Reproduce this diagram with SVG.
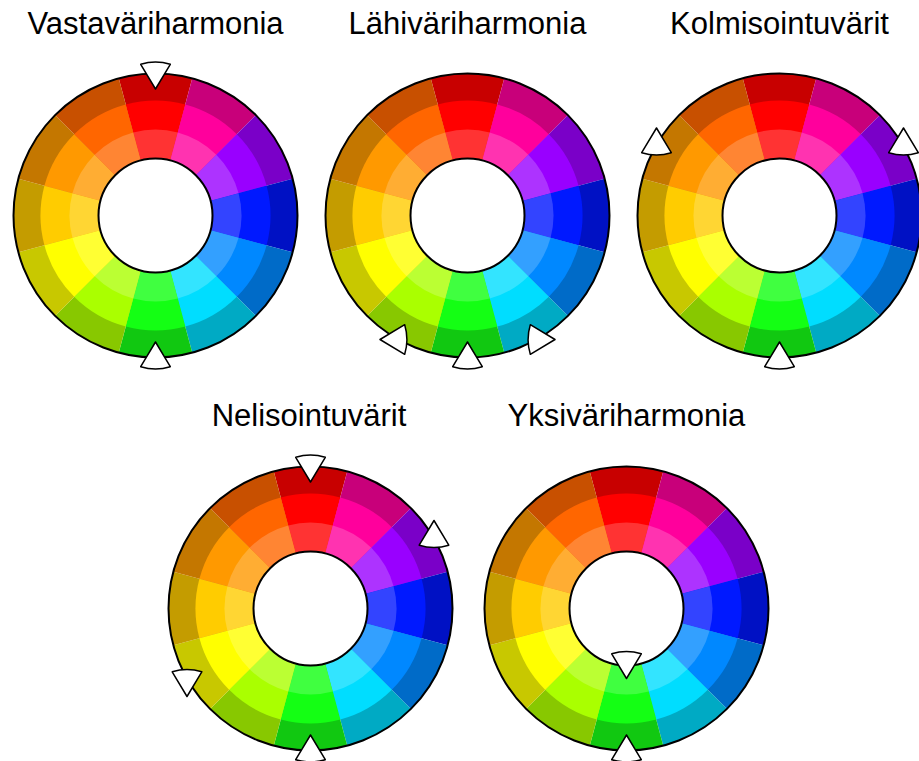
<svg xmlns="http://www.w3.org/2000/svg" xmlns:xlink="http://www.w3.org/1999/xlink" width="919" height="761" viewBox="0 0 919 761">
<style>
.title{font-family:"Liberation Sans",Arial,Helvetica,sans-serif;font-size:31px;fill:#000;text-anchor:middle}
.hole{fill:#fff;stroke:#000;stroke-width:2}
.rim{fill:none;stroke:#000;stroke-width:2}
.mark{fill:#fff;stroke:#000;stroke-width:1.5;stroke-linejoin:round}
</style>
<defs>
<path id="w1" d="M0 0L-36.75 -137.16A142 142 0 0 1 36.75 -137.16Z"/>
<path id="w2" d="M0 0L-29.76 -111.08A115 115 0 0 1 29.76 -111.08Z"/>
<path id="w3" d="M0 0L-22.26 -83.07A86 86 0 0 1 22.26 -83.07Z"/>
<path id="tri" class="mark" d="M0 -15.5L14.8 9.2Q0 13.6 -14.8 9.2Z"/>
<g id="wheel">
<use href="#w1" fill="#C80000"/>
<use href="#w1" fill="#C8007A" transform="rotate(30)"/>
<use href="#w1" fill="#7A00C8" transform="rotate(60)"/>
<use href="#w1" fill="#0011C4" transform="rotate(90)"/>
<use href="#w1" fill="#006BC8" transform="rotate(120)"/>
<use href="#w1" fill="#00AAC4" transform="rotate(150)"/>
<use href="#w1" fill="#11C811" transform="rotate(180)"/>
<use href="#w1" fill="#88C800" transform="rotate(210)"/>
<use href="#w1" fill="#C8C800" transform="rotate(240)"/>
<use href="#w1" fill="#C49C00" transform="rotate(270)"/>
<use href="#w1" fill="#C47700" transform="rotate(300)"/>
<use href="#w1" fill="#C85000" transform="rotate(330)"/>
<use href="#w2" fill="#FF0000"/>
<use href="#w2" fill="#FF009C" transform="rotate(30)"/>
<use href="#w2" fill="#9900FF" transform="rotate(60)"/>
<use href="#w2" fill="#0019FF" transform="rotate(90)"/>
<use href="#w2" fill="#0088FF" transform="rotate(120)"/>
<use href="#w2" fill="#00DDFF" transform="rotate(150)"/>
<use href="#w2" fill="#14FF14" transform="rotate(180)"/>
<use href="#w2" fill="#AAFF00" transform="rotate(210)"/>
<use href="#w2" fill="#FFFF00" transform="rotate(240)"/>
<use href="#w2" fill="#FFCC00" transform="rotate(270)"/>
<use href="#w2" fill="#FF9900" transform="rotate(300)"/>
<use href="#w2" fill="#FF6600" transform="rotate(330)"/>
<use href="#w3" fill="#FF3333"/>
<use href="#w3" fill="#FF33B0" transform="rotate(30)"/>
<use href="#w3" fill="#AD33FF" transform="rotate(60)"/>
<use href="#w3" fill="#3344FF" transform="rotate(90)"/>
<use href="#w3" fill="#33A0FF" transform="rotate(120)"/>
<use href="#w3" fill="#33E4FF" transform="rotate(150)"/>
<use href="#w3" fill="#40FF40" transform="rotate(180)"/>
<use href="#w3" fill="#BBFF33" transform="rotate(210)"/>
<use href="#w3" fill="#FFFF33" transform="rotate(240)"/>
<use href="#w3" fill="#FFD633" transform="rotate(270)"/>
<use href="#w3" fill="#FFAD33" transform="rotate(300)"/>
<use href="#w3" fill="#FF8533" transform="rotate(330)"/>
<circle r="57" class="hole"/>
<circle r="142" class="rim"/>
</g>
</defs>
<rect width="919" height="761" fill="#fff"/>
<g id="vastavariharmonia">
<text class="title" x="155.5" y="34">Vastaväriharmonia</text>
<use href="#wheel" transform="translate(155.5,215.5)"/>
<use href="#tri" transform="translate(155.5,73.5) rotate(180)"/>
<use href="#tri" transform="translate(155.5,357.5)"/>
</g>
<g id="lahivariharmonia">
<text class="title" x="467.5" y="34">Lähiväriharmonia</text>
<use href="#wheel" transform="translate(467.5,215.5)"/>
<use href="#tri" transform="translate(467.5,357.5)"/>
<use href="#tri" transform="translate(395.5,339.5) rotate(-90)"/>
<use href="#tri" transform="translate(539.5,339.5) rotate(90)"/>
</g>
<g id="kolmisointuvarit">
<text class="title" x="779.5" y="34">Kolmisointuvärit</text>
<use href="#wheel" transform="translate(779.5,215.5)"/>
<use href="#tri" transform="translate(779.5,357.5)"/>
<use href="#tri" transform="translate(656.5,143.5)"/>
<use href="#tri" transform="translate(903.5,143.5)"/>
</g>
<g id="nelisointuvarit">
<text class="title" x="309" y="426">Nelisointuvärit</text>
<use href="#wheel" transform="translate(310.5,608.5)"/>
<use href="#tri" transform="translate(310.5,466.5) rotate(180)"/>
<use href="#tri" transform="translate(434,536)"/>
<use href="#tri" transform="translate(187,681) rotate(180)"/>
<use href="#tri" transform="translate(310.5,750.5)"/>
</g>
<g id="yksivariharmonia">
<text class="title" x="626.5" y="426">Yksiväriharmonia</text>
<use href="#wheel" transform="translate(626.5,608.5)"/>
<use href="#tri" transform="translate(626.5,750.5)"/>
<use href="#tri" transform="translate(626.5,663) rotate(180)"/>
</g>
<g id="connectors"></g>
</svg>
